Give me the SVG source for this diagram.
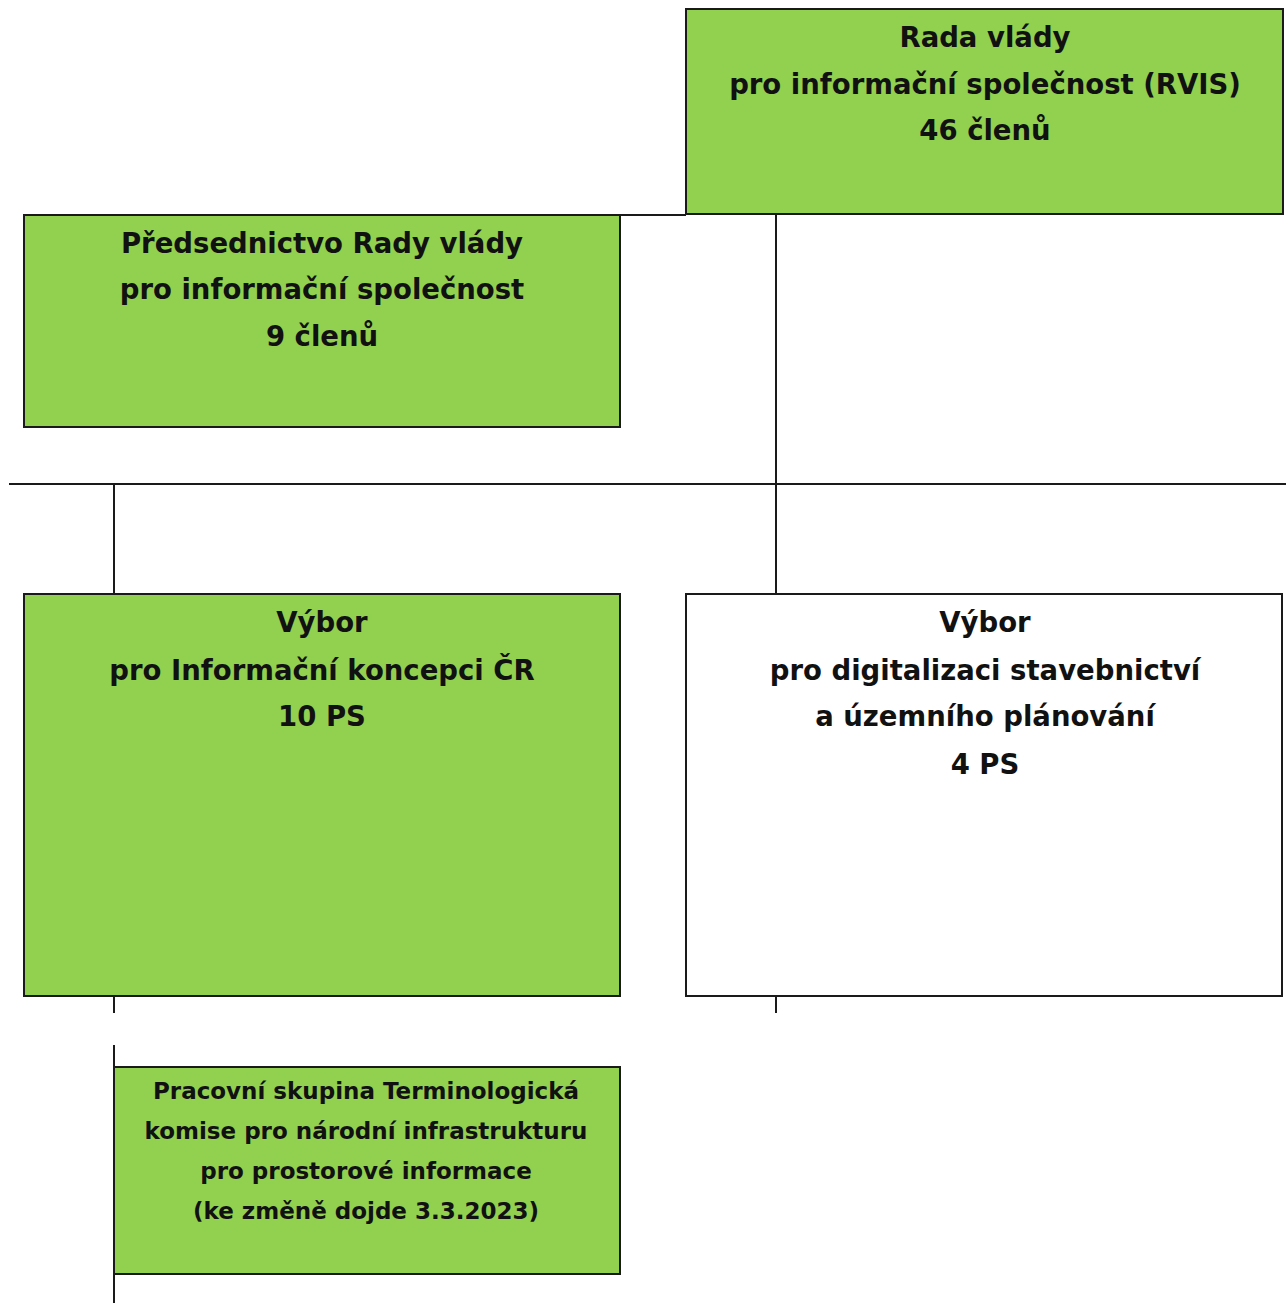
<svg xmlns="http://www.w3.org/2000/svg" width="1286" height="1303" viewBox="0 0 1286 1303">
<style>
.box{stroke:#1a1a1a;stroke-width:2}
.g{fill:#92D050}
.w{fill:#ffffff}
.t{font-family:"DejaVu Sans","Liberation Sans",sans-serif;font-weight:bold;font-size:27.5px;fill:#111;text-anchor:middle}
.s{font-size:23px}
.ln{stroke:#1a1a1a;stroke-width:2;fill:none}
</style>
<rect width="1286" height="1303" fill="#ffffff"/>
<g id="connectors">
<line class="ln" x1="620" y1="215" x2="686" y2="215"/>
<line class="ln" x1="776" y1="215" x2="776" y2="597"/>
<line class="ln" x1="9" y1="484" x2="1286" y2="484"/>
<line class="ln" x1="114" y1="484" x2="114" y2="594"/>
<line class="ln" x1="776" y1="996" x2="776" y2="1013"/>
<line class="ln" x1="114" y1="996" x2="114" y2="1013"/>
<line class="ln" x1="114" y1="1045" x2="114" y2="1303"/>
</g>
<g id="rvis">
<rect class="box g" x="686" y="9" width="597" height="205"/>
<text class="t" x="985" y="47">Rada vlády</text>
<text class="t" x="985" y="94">pro informační společnost (RVIS)</text>
<text class="t" x="985" y="140">46 členů</text>
</g>
<g id="predsednictvo">
<rect class="box g" x="24" y="215" width="596" height="212"/>
<text class="t" x="322" y="253">Předsednictvo Rady vlády</text>
<text class="t" x="322" y="299">pro informační společnost</text>
<text class="t" x="322" y="346">9 členů</text>
</g>
<g id="vybor-ik">
<rect class="box g" x="24" y="594" width="596" height="402"/>
<text class="t" x="322" y="632">Výbor</text>
<text class="t" x="322" y="680">pro Informační koncepci ČR</text>
<text class="t" x="322" y="726">10 PS</text>
</g>
<g id="vybor-ds">
<rect class="box w" x="686" y="594" width="596" height="402"/>
<text class="t" x="985" y="632">Výbor</text>
<text class="t" x="985" y="680">pro digitalizaci stavebnictví</text>
<text class="t" x="985" y="726">a územního plánování</text>
<text class="t" x="985" y="774">4 PS</text>
</g>
<g id="ps-terminologicka">
<rect class="box g" x="114" y="1067" width="506" height="207"/>
<text class="t s" x="366" y="1099">Pracovní skupina Terminologická</text>
<text class="t s" x="366" y="1139">komise pro národní infrastrukturu</text>
<text class="t s" x="366" y="1179">pro prostorové informace</text>
<text class="t s" x="366" y="1219">(ke změně dojde 3.3.2023)</text>
</g>
</svg>
